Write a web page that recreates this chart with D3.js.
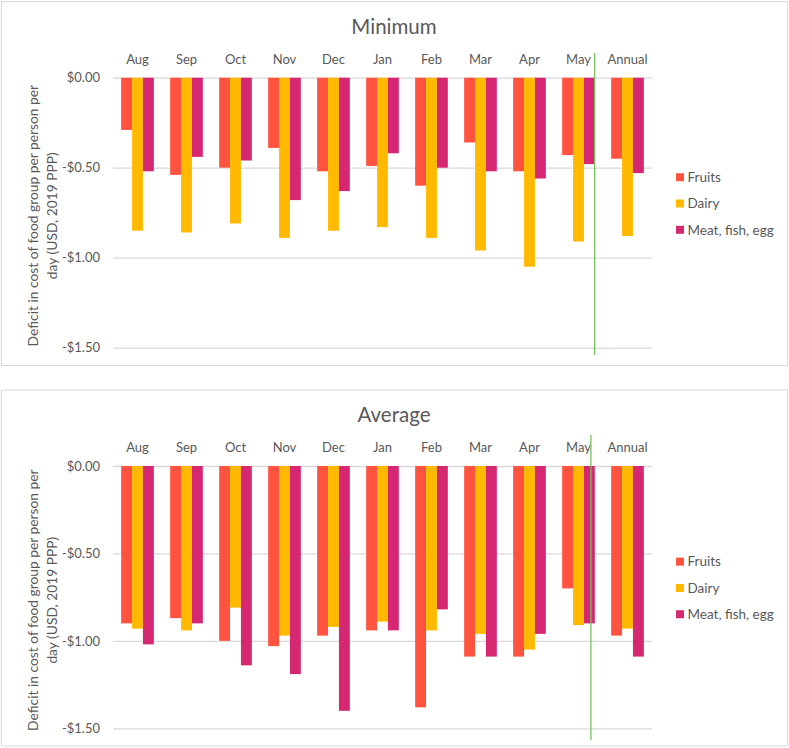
<!DOCTYPE html>
<html>
<head>
<meta charset="utf-8">
<script src="https://cdn.jsdelivr.net/npm/d3@7"></script>
<style>
  html, body { margin: 0; padding: 0; background: #fff; }
  svg { display: block; }
  text { font-family: Lato, "Open Sans", sans-serif; fill: #595959; }
</style>
</head>
<body>
<svg id="chart" width="789" height="748"></svg>
<script>
const categories = ["Aug","Sep","Oct","Nov","Dec","Jan","Feb","Mar","Apr","May","Annual"];
const seriesNames = ["Fruits","Dairy","Meat, fish, egg"];
const seriesColors = ["#FF5340","#FFBA00","#D62872"];
const yTicks = [0, -0.5, -1.0, -1.5];

const minFruits = [-0.29,-0.54,-0.50,-0.39,-0.52,-0.49,-0.60,-0.36,-0.52,-0.43,-0.45];
const minDairy  = [-0.85,-0.86,-0.81,-0.89,-0.85,-0.83,-0.89,-0.96,-1.05,-0.91,-0.88];
const minMeat   = [-0.52,-0.44,-0.46,-0.68,-0.63,-0.42,-0.50,-0.52,-0.56,-0.48,-0.53];

const avgFruits = [-0.90,-0.87,-1.00,-1.03,-0.97,-0.94,-1.38,-1.09,-1.09,-0.70,-0.97];
const avgDairy  = [-0.93,-0.94,-0.81,-0.97,-0.92,-0.89,-0.94,-0.96,-1.05,-0.91,-0.93];
const avgMeat   = [-1.02,-0.90,-1.14,-1.19,-1.40,-0.94,-0.82,-1.09,-0.96,-0.90,-1.09];

const panels = [
  { title: "Minimum", series: [minFruits, minDairy, minMeat],
    box: [1, 1, 786, 364], plotTop: 77.7, plotBottom: 347.7,
    titleY: 34, divider: { cat: "May", frac: 0.995, y0: 53, y1: 355 } },
  { title: "Average", series: [avgFruits, avgDairy, avgMeat],
    box: [1, 389.5, 786, 356], plotTop: 466, plotBottom: 728.3,
    titleY: 422, divider: { cat: "May", frac: 0.88, y0: 435, y1: 740 } }
];

const svg = d3.select("#chart");
const plotLeft = 113, plotRight = 652;
const fmt = v => (v < 0 ? "-$" : "$") + Math.abs(v).toFixed(2);

panels.forEach(p => {
  const g = svg.append("g");
  g.append("rect")
    .attr("x", p.box[0] + 0.5).attr("y", p.box[1] + 0.5)
    .attr("width", p.box[2]).attr("height", p.box[3])
    .attr("fill", "#fff").attr("stroke", "#d9d9d9").attr("stroke-width", 1);

  const x = d3.scaleBand().domain(categories).range([plotLeft, plotRight])
    .paddingInner(1/3).paddingOuter(1/6);
  const xs = d3.scaleBand().domain(seriesNames).range([0, x.bandwidth()]);
  const y = d3.scaleLinear().domain([-1.5, 0]).range([p.plotBottom, p.plotTop]);

  // gridlines + y labels
  const yAxis = g.append("g").attr("transform", `translate(${plotLeft},0)`)
    .call(d3.axisLeft(y).tickValues(yTicks).tickFormat(fmt)
      .tickSize(-(plotRight - plotLeft)).tickPadding(13));
  yAxis.select(".domain").remove();
  yAxis.selectAll("line").attr("stroke", "#d9d9d9").attr("stroke-width", 1.3);
  yAxis.selectAll("text").style("font-size", "13px").attr("fill", "#595959");

  // bars
  seriesNames.forEach((s, si) => {
    g.append("g").selectAll("rect")
      .data(p.series[si])
      .join("rect")
      .attr("x", (d, i) => x(categories[i]) + xs(s))
      .attr("width", xs.bandwidth())
      .attr("y", d => y(Math.max(0, d)))
      .attr("height", d => Math.abs(y(d) - y(0)))
      .attr("fill", seriesColors[si]);
  });

  // category axis labels at top
  const xAxis = g.append("g").attr("transform", `translate(0,${y(0)})`)
    .call(d3.axisTop(x).tickSize(0).tickPadding(14));
  xAxis.select(".domain").remove();
  xAxis.selectAll("text").style("font-size", "13px").attr("fill", "#595959");

  // title
  g.append("text").attr("x", p.box[0] + p.box[2] / 2).attr("y", p.titleY)
    .attr("text-anchor", "middle").style("font-size", "20.5px").text(p.title);

  // y-axis title (two lines)
  const cy = (p.plotTop + p.plotBottom) / 2 + 3;
  const yt = g.append("text").attr("transform", `translate(33,${cy}) rotate(-90)`)
    .attr("text-anchor", "middle").style("font-size", "13.8px");
  yt.append("tspan").attr("x", 0).attr("dy", "0.35em").text("Deficit in cost of food group per person per");
  yt.append("tspan").attr("x", 0).attr("dy", "19px").text("day (USD, 2019 PPP)");

  // divider line
  const dx = x(p.divider.cat) + x.bandwidth() * p.divider.frac;
  g.append("line").attr("x1", dx).attr("x2", dx)
    .attr("y1", p.divider.y0).attr("y2", p.divider.y1)
    .attr("stroke", "#76C05A").attr("stroke-width", 1.3);

  // legend
  const legY0 = (p.plotTop + p.plotBottom) / 2 - 35.5;
  const leg = g.append("g").attr("transform", `translate(676,${legY0})`);
  seriesNames.forEach((s, si) => {
    const row = leg.append("g").attr("transform", `translate(0,${si * 26.3})`);
    row.append("rect").attr("x", 0).attr("y", -4).attr("width", 8).attr("height", 8)
      .attr("fill", seriesColors[si]);
    row.append("text").attr("x", 11.5).attr("y", 0).attr("dy", "0.35em")
      .style("font-size", "13.5px").text(s);
  });
});
</script>
</body>
</html>
